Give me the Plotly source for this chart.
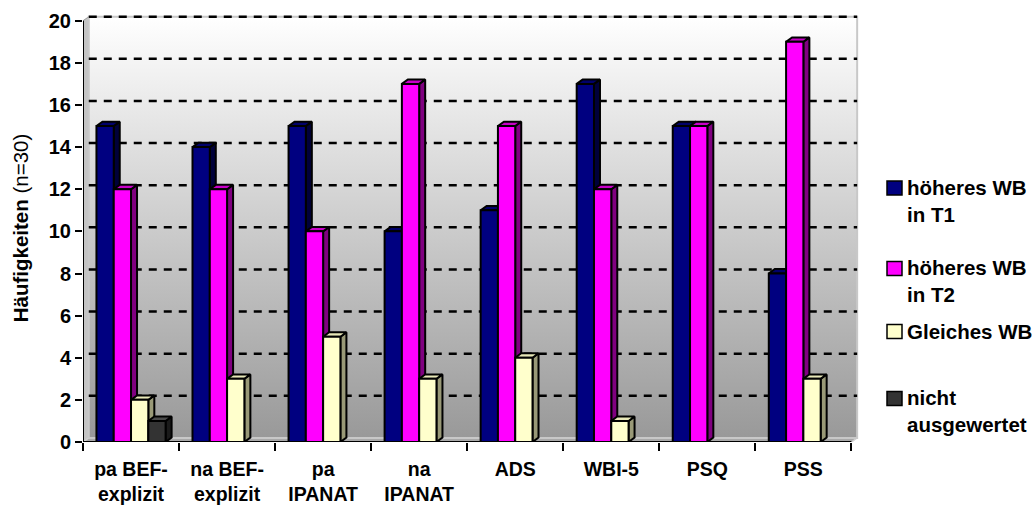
import plotly.graph_objects as go

# ---- data -------------------------------------------------------------
categories = ["pa BEF-<br>explizit", "na BEF-<br>explizit", "pa<br>IPANAT",
              "na<br>IPANAT", "ADS", "WBI-5", "PSQ", "PSS"]
series_names = ["höheres WB<br>in T1", "höheres WB<br>in T2",
                "Gleiches WB", "nicht<br>ausgewertet"]
higher_t1 = [15, 14, 15, 10, 11, 17, 15, 8]
higher_t2 = [12, 12, 10, 17, 15, 12, 15, 19]
equal_wb = [2, 3, 5, 3, 4, 1, 0, 3]
not_evaluated = [1, 0, 0, 0, 0, 0, 0, 0]
y_ticks = [0, 2, 4, 6, 8, 10, 12, 14, 16, 18, 20]

series_values = [higher_t1, higher_t2, equal_wb, not_evaluated]

# ---- styling ----------------------------------------------------------
FONT = "Liberation Sans, Arial, sans-serif"
# (front, side, top) face colours per series
FACE_COLORS = [
    ("#000080", "#00003a", "#00006a"),
    ("#ff00ff", "#800080", "#c800c8"),
    ("#ffffcc", "#999977", "#e8e8b8"),
    ("#333333", "#1a1a1a", "#4a4a4a"),
]
N_CAT = len(categories)
Y_MAX = y_ticks[-1]

# pseudo-3D geometry in axis units
SLOT = 0.18          # width of one bar front
GROUP_OFF = 0.14     # offset of first bar inside a category slot
BAR_DX, BAR_DY = 0.0625, 0.21    # bar depth
WALL_DX, WALL_DY = 0.06, 0.19    # back wall offset

# plot area in pixels
L_M, R_M, T_M, B_M = 83, 173, 14, 64
X_RANGE = [0, 8.1]
Y_RANGE = [0, 20.32]
PW = 1034 - L_M - R_M
PH = 506 - T_M - B_M


def px_to_paper(px, py):
    return (px - L_M) / PW, (506 - B_M - py) / PH


fig = go.Figure()

# left side wall
fig.add_trace(go.Scatter(
    x=[0, WALL_DX, WALL_DX, 0, 0], y=[0, WALL_DY, Y_MAX + WALL_DY, Y_MAX, 0],
    mode="lines", fill="toself", fillcolor="#c4c4c4",
    line=dict(color="#9a9a9a", width=1), hoverinfo="skip", showlegend=False))

# floor
fig.add_trace(go.Scatter(
    x=[0, N_CAT, N_CAT + WALL_DX, WALL_DX, 0], y=[0, 0, WALL_DY, WALL_DY, 0],
    mode="lines", fill="toself", fillcolor="#a8a8a8",
    line=dict(color="#d0d0d0", width=1.5), hoverinfo="skip", showlegend=False))

# back wall with vertical grey gradient
fig.add_trace(go.Scatter(
    x=[WALL_DX, N_CAT + WALL_DX, N_CAT + WALL_DX, WALL_DX, WALL_DX],
    y=[WALL_DY, WALL_DY, Y_MAX + WALL_DY, Y_MAX + WALL_DY, WALL_DY],
    mode="lines", fill="toself",
    fillgradient=dict(type="vertical", start=WALL_DY, stop=Y_MAX + WALL_DY,
                      colorscale=[[0, "#999999"], [1, "#ffffff"]]),
    line=dict(color="#c8c8c8", width=2), hoverinfo="skip", showlegend=False))

# dashed gridlines on the back wall
gx, gy = [], []
for t in y_ticks[1:]:
    gx += [WALL_DX, N_CAT + WALL_DX, None]
    gy += [t + WALL_DY, t + WALL_DY, None]
fig.add_trace(go.Scatter(
    x=gx, y=gy, mode="lines", line=dict(color="black", width=2.5, dash="8px,7px"),
    hoverinfo="skip", showlegend=False))

# bars: side, top and front faces, drawn series by series
for s, (name, vals) in enumerate(zip(series_names, series_values)):
    front_c, side_c, top_c = FACE_COLORS[s]
    fx, fy, sx, sy, tx, ty = [], [], [], [], [], []
    for i, v in enumerate(vals):
        if v <= 0:
            continue
        xl = i + GROUP_OFF + s * SLOT
        xr = xl + SLOT
        fx += [xl, xr, xr, xl, xl, None]
        fy += [0, 0, v, v, 0, None]
        sx += [xr, xr + BAR_DX, xr + BAR_DX, xr, xr, None]
        sy += [0, BAR_DY, v + BAR_DY, v, 0, None]
        tx += [xl, xr, xr + BAR_DX, xl + BAR_DX, xl, None]
        ty += [v, v, v + BAR_DY, v + BAR_DY, v, None]
    for xs, ys, col in ((sx, sy, side_c), (tx, ty, top_c), (fx, fy, front_c)):
        fig.add_trace(go.Scatter(
            x=xs, y=ys, mode="lines", fill="toself", fillcolor=col,
            line=dict(color="black", width=2), hoverinfo="skip",
            showlegend=False, name=name.replace("<br>", " ")))

# axis lines
fig.add_shape(type="line", xref="x", yref="y", x0=0, x1=0, y0=0, y1=Y_MAX,
              line=dict(color="black", width=2), layer="above")
fig.add_shape(type="line", xref="x", yref="y", x0=0, x1=N_CAT, y0=0, y1=0,
              line=dict(color="black", width=2), layer="above")

# legend (swatch + text)
legend_rows = [(188, 201), (268.5, 281), (331.5, 331.5), (398.5, 411)]
for s, (name, (sq_y, txt_y)) in enumerate(zip(series_names, legend_rows)):
    x0, y0 = px_to_paper(887, sq_y + 7)
    x1, y1 = px_to_paper(902, sq_y - 7)
    fig.add_shape(type="rect", xref="paper", yref="paper", x0=x0, x1=x1,
                  y0=y0, y1=y1, fillcolor=FACE_COLORS[s][0],
                  line=dict(color="black", width=1.5))
    ax, ay = px_to_paper(905, txt_y)
    fig.add_annotation(xref="paper", yref="paper", x=ax, y=ay, text=name,
                       xanchor="left", yanchor="middle", align="left",
                       showarrow=False,
                       font=dict(family=FONT, size=20.5, color="black", weight="bold"))

fig.update_layout(
    width=1034, height=506,
    margin=dict(l=L_M, r=R_M, t=T_M, b=B_M, autoexpand=False),
    paper_bgcolor="white", plot_bgcolor="white",
    showlegend=False,
    font=dict(family=FONT, color="black"),
    xaxis=dict(
        range=X_RANGE, showgrid=False, zeroline=False, showline=False,
        automargin=False,
        tickmode="array", tickvals=[i + 0.5 for i in range(N_CAT)],
        ticktext=categories, ticks="", ticklabelstandoff=13,
        tickfont=dict(family=FONT, size=19.5, color="black", weight="bold"),
        minor=dict(tickmode="array", tickvals=list(range(N_CAT + 1)),
                   ticks="outside", ticklen=8, tickwidth=2, tickcolor="black"),
        fixedrange=True,
    ),
    yaxis=dict(
        range=Y_RANGE, showgrid=False, zeroline=False, showline=False,
        automargin=False,
        tickmode="array", tickvals=y_ticks, ticks="outside", ticklen=7,
        tickwidth=2, tickcolor="black",
        tickfont=dict(family=FONT, size=20, color="black", weight="bold"),
        title=dict(text="<b>Häufigkeiten</b> (n=30)", standoff=14,
                   font=dict(family=FONT, size=20.5, color="black")),
        fixedrange=True,
    ),
)

fig.write_html("out.html")
